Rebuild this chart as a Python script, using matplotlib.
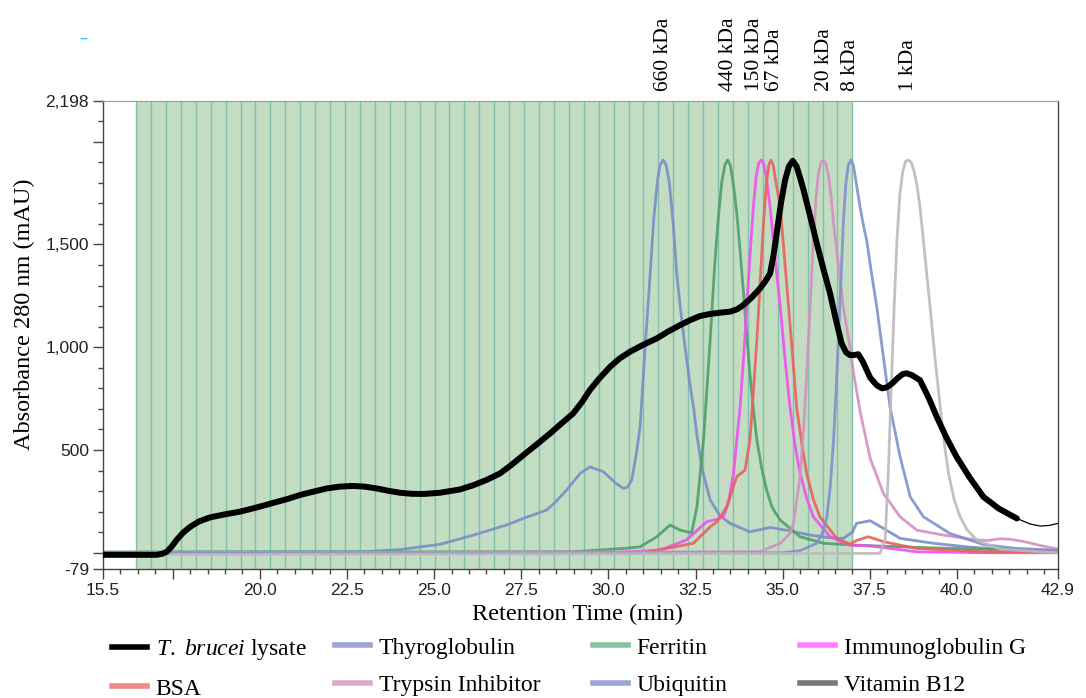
import numpy as np
import matplotlib.pyplot as plt
from matplotlib.lines import Line2D
from matplotlib.ticker import FixedLocator, FixedFormatter

plt.rcParams['mathtext.fontset'] = 'custom'
plt.rcParams['mathtext.rm'] = 'Liberation Serif'
plt.rcParams['mathtext.it'] = 'Liberation Serif:italic'

# fraction collection window
frac_start = 16.45
frac_end = 37.0
n_frac = 48

# T. brucei lysate (thick part, then thin tail)
lys_x = [15.5, 16.5, 17.04, 17.2, 17.33, 17.47, 17.61, 17.8, 18.0, 18.25, 18.57, 19.0, 19.43,
         19.9, 20.39, 20.8, 21.15, 21.55, 21.92, 22.3, 22.68, 23.0, 23.35, 23.7, 24.02, 24.35,
         24.69, 25.17, 25.74, 26.13, 26.5, 26.89, 27.2, 27.56, 27.95, 28.33, 28.66, 28.99,
         29.25, 29.47, 29.75, 30.05, 30.32, 30.62, 31.0, 31.39, 31.7, 32.06, 32.35, 32.63,
         32.92, 33.2, 33.49, 33.7, 33.87, 34.1, 34.35, 34.5, 34.64, 34.74, 34.83, 34.95,
         35.07, 35.18, 35.29, 35.40, 35.50, 35.60, 35.80, 35.98, 36.17, 36.36, 36.52, 36.69,
         36.82, 36.93, 37.05, 37.17, 37.3, 37.51, 37.7, 37.85, 37.99, 38.15, 38.3, 38.45,
         38.56, 38.7, 38.94, 39.2, 39.42, 39.7, 39.99, 40.35, 40.76, 41.2, 41.72]
lys_y = [-10, -10, -10, -5, 5, 30, 62, 98, 126, 152, 172, 187, 200,
         220, 243, 262, 281, 298, 313, 322, 325, 322, 313, 301, 292, 287,
         286, 292, 308, 329, 354, 386, 425, 475, 528, 581, 630, 678,
         735, 792, 850, 905, 945, 978, 1012, 1043, 1075, 1108, 1132, 1152,
         1162, 1168, 1173, 1185, 1205, 1240, 1286, 1320, 1359, 1450, 1554, 1700,
         1813, 1880, 1907, 1880, 1825, 1765, 1630, 1505, 1380, 1262, 1140, 1019,
         975, 962, 962, 966, 930, 852, 815, 800, 805, 825, 850, 870,
         873, 865, 840, 750, 662, 560, 467, 370, 272, 215, 167]
tail_x = [41.72, 42.1, 42.39, 42.65, 42.9]
tail_y = [167, 140, 130, 133, 143]

thyro_x = [15.5, 23.0, 24.0, 25.17, 26.13, 27.08, 27.56, 28.23, 28.5, 28.80, 29.19, 29.47,
           29.86, 30.2, 30.43, 30.55, 30.67, 30.80, 30.91, 31.05, 31.20, 31.30, 31.40, 31.48,
           31.57, 31.66, 31.75, 31.86, 31.96, 32.06, 32.20, 32.34, 32.45, 32.55, 32.70, 32.92,
           33.2, 33.49, 34.06, 34.64, 35.21, 35.79, 36.36, 36.74, 37.0, 37.12, 37.51, 37.89,
           38.37, 39.33, 40.28, 41.24, 42.9]
thyro_y = [3, 5, 15, 41, 86, 135, 167, 208, 250, 305, 386, 418,
           394, 340, 313, 320, 354, 480, 613, 986, 1359, 1620, 1800, 1885,
           1911, 1885, 1800, 1600, 1359, 1200, 1000, 820, 700, 560, 400, 257,
           180, 143, 102, 123, 107, 86, 73, 70, 100, 143, 156, 119,
           70, 46, 29, 17, 10]

ferr_x = [15.5, 28.99, 30.43, 30.91, 31.39, 31.77, 32.06, 32.39, 32.54, 32.73, 32.92, 33.05,
          33.15, 33.25, 33.34, 33.42, 33.50, 33.58, 33.68, 33.78, 33.87, 34.06, 34.16, 34.26,
          34.40, 34.54, 34.70, 34.93, 35.5, 36.17, 37.12, 38.85, 40.76, 42.9]
ferr_y = [3, 5, 21, 29, 78, 135, 110, 97, 224, 548, 1035, 1400,
          1620, 1800, 1885, 1911, 1885, 1800, 1660, 1470, 1278, 873, 700, 548,
          410, 305, 220, 159, 78, 46, 37, 26, 17, 10]

igg_x = [15.5, 30.0, 31.48, 32.24, 32.82, 33.11, 33.30, 33.45, 33.59, 33.78, 33.88, 33.97,
         34.07, 34.16, 34.24, 34.31, 34.38, 34.45, 34.53, 34.64, 34.78, 34.93, 35.07, 35.21,
         35.35, 35.5, 35.7, 35.88, 36.36, 36.93, 37.51, 38.85, 40.76, 42.9]
igg_y = [-3, 0, 13, 62, 151, 162, 175, 250, 386, 710, 950, 1197,
         1460, 1683, 1830, 1895, 1911, 1895, 1830, 1683, 1440, 1197, 940, 710,
         530, 386, 260, 175, 78, 37, 33, 5, 0, 0]

bsa_x = [15.5, 31.0, 32.44, 32.92, 33.11, 33.4, 33.68, 33.92, 34.06, 34.16, 34.26, 34.36,
         34.45, 34.53, 34.60, 34.66, 34.73, 34.81, 34.93, 35.05, 35.17, 35.29, 35.40, 35.55,
         35.69, 35.88, 36.07, 36.55, 36.93, 37.12, 37.46, 37.89, 38.85, 40.76, 42.9]
bsa_y = [-5, 0, 46, 126, 150, 224, 370, 402, 548, 780, 1035, 1330,
         1603, 1790, 1885, 1911, 1885, 1800, 1683, 1440, 1197, 950, 710, 530,
         386, 260, 175, 70, 42, 60, 78, 54, 21, 5, 3]

tryp_x = [15.5, 34.35, 34.93, 35.21, 35.31, 35.5, 35.6, 35.69, 35.79, 35.88, 35.96, 36.03,
          36.10, 36.17, 36.24, 36.32, 36.40, 36.46, 36.60, 36.74, 36.93, 37.03, 37.22, 37.51,
          37.89, 38.37, 38.85, 39.61, 40.57, 40.9, 41.24, 41.5, 41.91, 42.4, 42.9]
tryp_y = [0, 5, 46, 94, 143, 370, 600, 873, 1200, 1521, 1730, 1850,
          1900, 1911, 1895, 1830, 1720, 1603, 1400, 1197, 1000, 880, 690, 460,
          289, 175, 110, 86, 62, 60, 68, 66, 55, 35, 18]

ubq_x = [15.5, 35.0, 35.5, 35.98, 36.15, 36.27, 36.37, 36.46, 36.53, 36.60, 36.67, 36.74,
         36.81, 36.88, 36.96, 37.03, 37.12, 37.22, 37.31, 37.41, 37.55, 37.70, 37.89, 38.08,
         38.37, 38.66, 39.04, 39.80, 40.76, 41.72, 42.9]
ubq_y = [-3, 0, 10, 46, 100, 175, 330, 548, 780, 1035, 1320, 1603,
         1790, 1885, 1911, 1885, 1790, 1683, 1600, 1521, 1360, 1197, 954, 710,
         467, 272, 175, 94, 40, 21, 12]

b12_x = [15.5, 37.79, 37.94, 38.03, 38.13, 38.20, 38.28, 38.36, 38.45, 38.53, 38.61, 38.69,
         38.78, 38.86, 38.94, 39.08, 39.23, 39.37, 39.52, 39.64, 39.76, 39.92, 40.09, 40.3,
         40.57, 41.24, 42.9]
b12_y = [-8, -3, 62, 386, 873, 1200, 1521, 1740, 1860, 1905, 1911, 1900,
         1850, 1780, 1683, 1450, 1197, 950, 710, 530, 386, 260, 175, 110,
         62, 17, 0]

standards = [
    ("Thyroglobulin", thyro_x, thyro_y, "#7a8ec6", "#9aa6d8"),
    ("Ferritin", ferr_x, ferr_y, "#4f9f68", "#86c29c"),
    ("Immunoglobulin G", igg_x, igg_y, "#f050f0", "#ff80ff"),
    ("BSA", bsa_x, bsa_y, "#e86060", "#f08888"),
    ("Trypsin Inhibitor", tryp_x, tryp_y, "#d490c0", "#dcaad0"),
    ("Ubiquitin", ubq_x, ubq_y, "#8090cc", "#9aa6d8"),
    ("Vitamin B12", b12_x, b12_y, "#bbbbbb", "#777777"),
]

mw_x = [31.57, 33.44, 34.2, 34.78, 36.19, 36.95, 38.61]
mw_labels = ["660 kDa", "440 kDa", "150 kDa", "67 kDa", "20 kDa", "8 kDa", "1 kDa"]

fig = plt.figure(figsize=(10.86, 6.98), dpi=100)
ax = fig.add_axes([0.09484, 0.18481, 0.87937, 0.67049])

ax.axvspan(frac_start, frac_end, color="#5fa85f", alpha=0.38, lw=0, zorder=1)
for e in np.linspace(frac_start, frac_end, n_frac + 1):
    ax.axvline(e, color="#7fbfab", lw=1, zorder=1.5)

for name, xs, ys, c, lc in standards:
    ax.plot(xs, ys, color=c, lw=2, alpha=0.9, zorder=2)

ax.plot(lys_x, lys_y, color="black", lw=4.3, zorder=5, solid_capstyle='round',
        solid_joinstyle='round')
ax.plot(tail_x, tail_y, color="black", lw=0.9, zorder=5)

ax.set_xlim(15.5, 42.9)
ax.set_ylim(-79, 2198)

xt = [15.5, 17.5, 20.0, 22.5, 25.0, 27.5, 30.0, 32.5, 35.0, 37.5, 40.0, 42.9]
xl = ["15.5", "", "20.0", "22.5", "25.0", "27.5", "30.0", "32.5", "35.0", "37.5", "40.0", "42.9"]
ax.xaxis.set_major_locator(FixedLocator(xt))
ax.xaxis.set_major_formatter(FixedFormatter(xl))
ax.xaxis.set_minor_locator(FixedLocator(np.arange(15.5, 42.9, 0.5)))

yt = [-79, 0, 500, 1000, 1500, 2000, 2198]
yl = ["-79", "", "500", "1,000", "1,500", "", "2,198"]
ax.yaxis.set_major_locator(FixedLocator(yt))
ax.yaxis.set_major_formatter(FixedFormatter(yl))
ax.yaxis.set_minor_locator(FixedLocator(np.arange(0, 2198, 100)))

ax.tick_params(which='major', direction='out', length=7, width=1, color='#444444',
               labelsize=12.5, labelcolor='#222222', pad=3)
ax.tick_params(which='minor', direction='out', length=3.5, width=1, color='#444444')
for lab in ax.get_xticklabels() + ax.get_yticklabels():
    lab.set_family('Liberation Sans')

for s in ['left', 'bottom', 'right']:
    ax.spines[s].set_color('#444444')
    ax.spines[s].set_linewidth(1)
ax.spines['top'].set_color('#999999')

ax.set_xlabel("Retention Time (min)", family='Liberation Serif', fontsize=17.5)
ax.set_ylabel("Absorbance 280 nm (mAU)", family='Liberation Serif', fontsize=17.5)
ax.xaxis.set_label_coords(0.497, -0.074)
ax.xaxis.label.set_va('top')
ax.yaxis.set_label_coords(-0.071, 0.545)

for x, lab in zip(mw_x, mw_labels):
    ax.text(x, 1.021, lab, transform=ax.get_xaxis_transform(), rotation=90,
            ha='center', va='bottom', family='Liberation Serif', fontsize=15.5)

fig.text(83 / 1086, 1 - 38 / 698, "\u2013", color="#22ccee", ha='center', va='center', fontsize=12)

# legend, one block per column
lys_label = r"$\mathit{T.\ brucei}$ lysate"
cols = [
    [(lys_label, "black"), ("BSA", standards[3][4])],
    [("Thyroglobulin", standards[0][4]), ("Trypsin Inhibitor", standards[4][4])],
    [("Ferritin", standards[1][4]), ("Ubiquitin", standards[5][4])],
    [("Immunoglobulin G", standards[2][4]), ("Vitamin B12", standards[6][4])],
]
col_x = [112, 335, 593, 800]
for cx, entries in zip(col_x, cols):
    handles = [Line2D([], [], color=c, lw=4) for _, c in entries]
    labels = [l for l, _ in entries]
    fig.legend(handles, labels, loc='upper left', bbox_to_anchor=(cx / 1086, 1 - 637 / 698),
               frameon=False, borderpad=0, borderaxespad=0, handlelength=1.5,
               handletextpad=0.35, labelspacing=0.68,
               prop={'family': 'Liberation Serif', 'size': 17})

fig.savefig("out.png", dpi=100)
